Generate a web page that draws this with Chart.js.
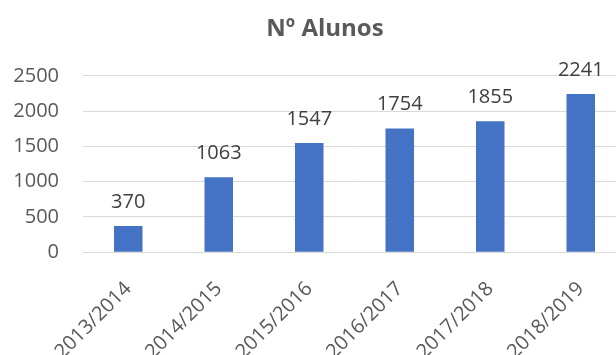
<!DOCTYPE html>
<html lang="pt">
<head>
    <meta charset="UTF-8">
    <title>Nº Alunos</title>
    <script src="https://cdn.jsdelivr.net/npm/chart.js"></script>
    <style>
        html, body { margin: 0; padding: 0; background: #fff; overflow: hidden; }
        #wrap { width: 626px; height: 381px; }
    </style>
</head>
<body>
    <div id="wrap">
        <canvas id="alunosChart" width="626" height="381"></canvas>
    </div>

    <script>
        const anos = ["2013/2014", "2014/2015", "2015/2016", "2016/2017", "2017/2018", "2018/2019"];
        const alunos = [370, 1063, 1547, 1754, 1855, 2241];
        const yTicks = [0, 500, 1000, 1500, 2000, 2500];

        const FONT = "'Open Sans', 'Liberation Sans', sans-serif";

        // values written over each bar
        const valueLabels = {
            id: "valueLabels",
            afterDatasetsDraw(chart) {
                const ctx = chart.ctx;
                const meta = chart.getDatasetMeta(0);
                ctx.save();
                ctx.font = "20px " + FONT;
                ctx.fillStyle = "#404040";
                ctx.textAlign = "center";
                ctx.textBaseline = "alphabetic";
                meta.data.forEach((bar, i) => {
                    ctx.fillText(String(chart.data.datasets[0].data[i]), bar.x, bar.y - 18.5);
                });
                ctx.restore();
            }
        };

        // nudge the title a bit to the right
        const titleShift = {
            id: "titleShift",
            afterLayout(chart) {
                if (chart.titleBlock) {
                    chart.titleBlock.left += 5.5;
                    chart.titleBlock.right += 5.5;
                }
            }
        };

        new Chart(document.getElementById("alunosChart"), {
            type: "bar",
            data: {
                labels: anos,
                datasets: [{
                    label: "Nº Alunos",
                    data: alunos,
                    backgroundColor: "#4472C4",
                    borderWidth: 0,
                    categoryPercentage: 1,
                    barPercentage: 0.315
                }]
            },
            options: {
                responsive: false,
                animation: false,
                layout: { padding: { left: 13, right: 0, top: 0, bottom: 0 } },
                plugins: {
                    legend: { display: false },
                    tooltip: { enabled: false },
                    title: {
                        display: true,
                        text: "Nº Alunos",
                        color: "#595959",
                        font: { family: FONT, size: 24, weight: "bold" },
                        padding: { top: 15, bottom: 32 }
                    }
                },
                scales: {
                    x: {
                        // the slanted labels may run past the left edge
                        afterFit(scale) {
                            scale.paddingLeft = 0;
                            scale.paddingRight = 0;
                        },
                        grid: { display: false },
                        border: { display: false },
                        ticks: {
                            color: "#595959",
                            font: { family: FONT, size: 20 },
                            minRotation: 45,
                            maxRotation: 45,
                            padding: 17
                        }
                    },
                    y: {
                        min: 0,
                        max: 2500,
                        afterBuildTicks(scale) {
                            scale.ticks = yTicks.map(v => ({ value: v }));
                        },
                        // labels plus their gap, nothing more
                        afterFit(scale) {
                            scale.width = 70;
                        },
                        grid: { color: "#D9D9D9", lineWidth: 1, drawTicks: false },
                        border: { display: false },
                        ticks: {
                            color: "#595959",
                            font: { family: FONT, size: 20 },
                            padding: 24,
                            callback: v => String(v)
                        }
                    }
                }
            },
            plugins: [valueLabels, titleShift]
        });
    </script>
</body>
</html>
